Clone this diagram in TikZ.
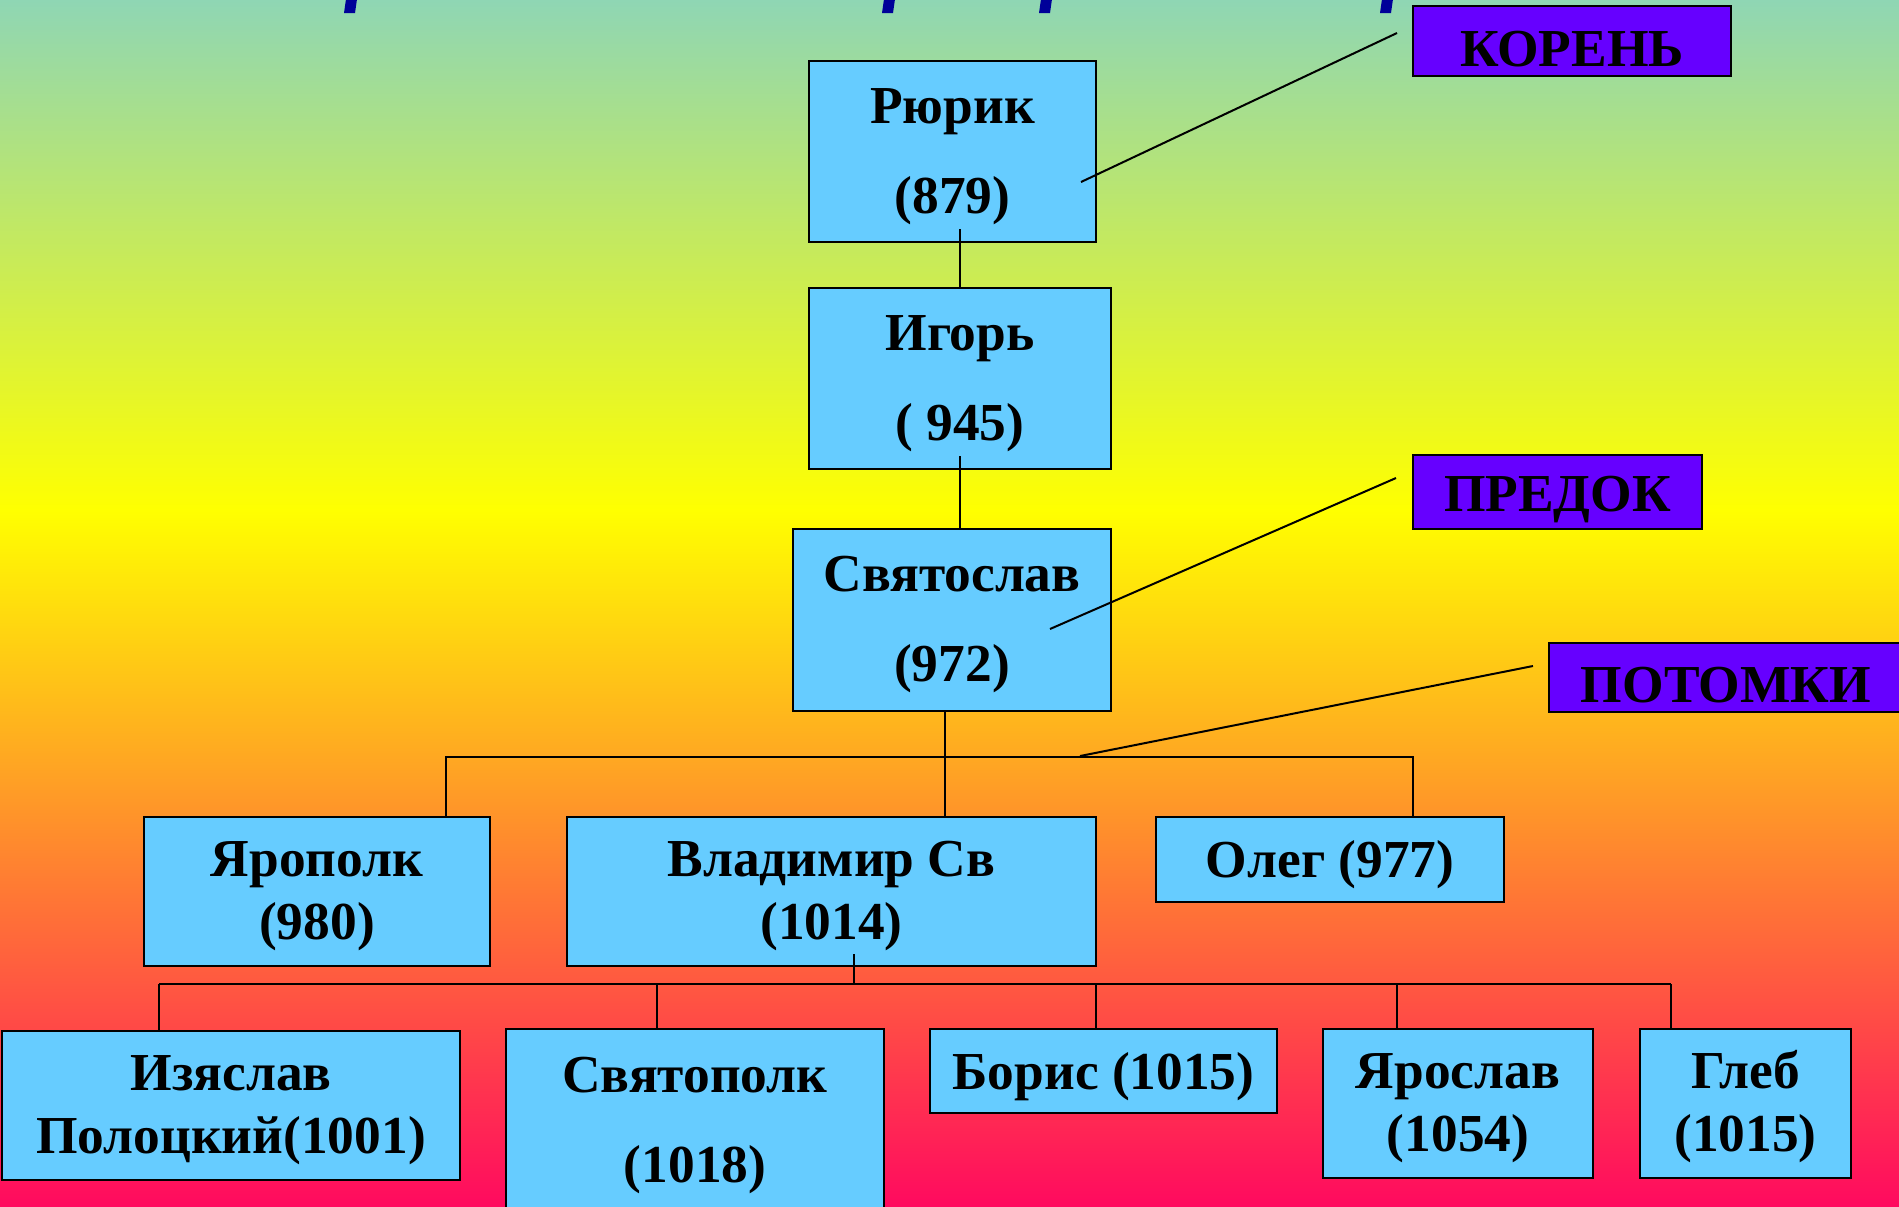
\documentclass[tikz,border=0pt]{standalone}
\usepackage{fontspec}
\setmainfont{Liberation Serif}
\usepackage{xcolor}
\usepackage{tikz}

\definecolor{boxblue}{HTML}{66CCFF}
\definecolor{tagviolet}{HTML}{6600FF}
\definecolor{bgtop}{RGB}{143,214,180}
\definecolor{bgbot}{RGB}{255,10,95}
\definecolor{titleblue}{HTML}{000099}

\newcommand{\lift}{\rule{0pt}{22.5pt}}

\tikzset{
  person/.style={draw=black, line width=1pt, fill=boxblue, align=center, inner sep=0pt,
    execute at begin node={\rule{0pt}{24pt}}, font=\bfseries\fontsize{26.7}{31.5}\selectfont},
  tall/.style={font=\bfseries\fontsize{26.7}{45}\selectfont},
  tag/.style={draw=black, line width=1pt, fill=tagviolet, inner sep=0pt,
    execute at begin node={\rule{0pt}{25.5pt}}, font=\bfseries\fontsize{26.7}{31.5}\selectfont},
  link/.style={line width=1pt},
}

\begin{document}
\begin{tikzpicture}[x=0.5pt, y=-0.5pt]
        \path[use as bounding box, clip] (0,0) rectangle (1899,1206);
        \shade[top color=bgtop, bottom color=yellow] (0,0) rectangle (1899,511);
        \shade[top color=yellow, bottom color=bgbot] (0,510) rectangle (1899,1206);

        % bits of the title, cut off at the top edge
        \foreach \x in {344, 882, 1039, 1380}
            \fill[titleblue] (\x,13) -- (\x+11,13) -- (\x+13,-1) -- (\x+2,-1) -- cycle;

        % the line of Rurik
        \node[person, tall, minimum width=143.5pt, minimum height=90.5pt] (rurik) at (952.5,151.5) {\lift Рюрик\\(879)};
        \node[person, tall, minimum width=151pt, minimum height=90.5pt] (igor) at (960,378.5) {\lift Игорь\\( 945)};
        \node[person, tall, minimum width=159pt, minimum height=91pt] (svyat) at (952,620) {\lift Святослав\\(972)};

        \node[person, minimum width=173pt, minimum height=74.5pt] (yaropolk) at (317,891.5) {\lift Ярополк\\(980)};
        \node[person, minimum width=264.5pt, minimum height=74.5pt] (vladimir) at (831.5,891.5) {\lift Владимир Св\\(1014)};
        \node[person, minimum width=174pt, minimum height=42.5pt] (oleg) at (1330,859.5) {Олег (977)};

        \node[person, minimum width=229pt, minimum height=74.5pt] (izyaslav) at (231,1105.5) {\lift Изяслав\\Полоцкий(1001)};
        \node[person, tall, minimum width=189pt, minimum height=91.5pt] (svyatopolk) at (695,1120.5) {\lift Святополк\\(1018)};
        \node[person, minimum width=173.5pt, minimum height=42pt] (boris) at (1103.5,1071) {Борис (1015)};
        \node[person, minimum width=135pt, minimum height=74.5pt] (yaroslav) at (1458,1103.5) {\lift Ярослав\\(1054)};
        \node[person, minimum width=105.5pt, minimum height=74.5pt] (gleb) at (1745.5,1103.5) {\lift Глеб\\(1015)};

        % tags on the right
        \node[tag, minimum width=159pt, minimum height=35pt] (koren) at (1572,41) {КОРЕНЬ};
        \node[tag, minimum width=144.5pt, minimum height=37pt] (predok) at (1557.5,492) {ПРЕДОК};
        \node[tag, minimum width=177pt, minimum height=34.5pt] (potomki) at (1726,677.5) {ПОТОМКИ};

        % links
        \draw[link] ([yshift=7pt]igor.north |- rurik.south) -- (igor.north);
        \draw[link] ([yshift=7pt]igor.south) -- (igor.south |- svyat.north);

        \coordinate (busL) at (446,757);
        \coordinate (busM) at (945,757);
        \coordinate (busR) at (1413,757);
        \draw[link] (svyat.south -| busM) -- (busM |- vladimir.north);
        \draw[link] (busL |- yaropolk.north) -- (busL) -- (busR) -- (busR |- oleg.north);

        \coordinate (sonsL) at (159,984);
        \coordinate (sonsM) at (853.5,984);
        \coordinate (sonsR) at (1671,984);
        \draw[link] ([yshift=6.5pt]vladimir.south -| sonsM) -- (sonsM);
        \draw[link] (sonsL) -- (sonsR);
        \foreach \x/\n in {159/izyaslav, 657/svyatopolk, 1096/boris, 1397/yaroslav, 1671/gleb}
            \draw[link] (\x,984) -- (\n.north -| \x,984);

        % leaders from the tags
        \coordinate (korenend) at (1081,182);
        \coordinate (predokend) at (1050,629);
        \coordinate (potomkiend) at (1080,756);
        \draw[link] (koren.west) ++(-15,-8) -- (korenend);
        \draw[link] (predok.west) ++(-16,-14) -- (predokend);
        \draw[link] (potomki.west) ++(-15,-11.5) -- (potomkiend);
    \end{tikzpicture}
\end{document}
